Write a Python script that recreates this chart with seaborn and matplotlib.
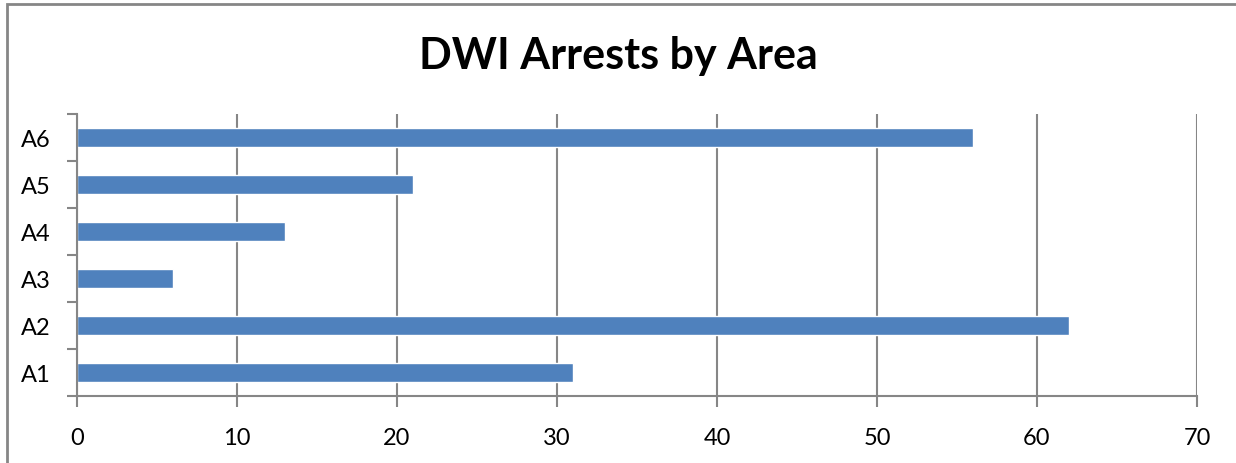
import pandas as pd
import seaborn as sns
import matplotlib.pyplot as plt
from matplotlib.patches import Rectangle
import matplotlib.ticker as ticker

# data
areas = ['A1', 'A2', 'A3', 'A4', 'A5', 'A6']
arrests = [31, 62, 6, 13, 21, 56]

df = pd.DataFrame({'Area': areas, 'Arrests': arrests})

sns.set_theme(style='white')
plt.rcParams['font.family'] = ['Lato', 'DejaVu Sans']

grey = '#868686'
fig = plt.figure(figsize=(12.36, 4.64), dpi=100)
ax = fig.add_axes([77 / 1236, 1 - 397 / 464, 1120 / 1236, 282 / 464])

sns.barplot(data=df, x='Arrests', y='Area', order=areas[::-1],
            color='#4F81BD', saturation=1, width=0.4, ax=ax)

ax.set_xlim(0, 70)
ax.set_ylim(5.5, -0.5)
ax.xaxis.set_major_locator(ticker.MultipleLocator(10))
ax.grid(axis='x', color=grey, linewidth=1.5)
ax.set_axisbelow(True)

# category boundaries get the tick marks, labels sit in between
ax.set_yticks([i + 0.5 for i in range(-1, 6)], minor=True)
ax.tick_params(axis='y', which='major', length=0, pad=19, labelsize=17, labelcolor='black')
ax.tick_params(axis='y', which='minor', length=7, width=1.5, color=grey, left=True)
ax.tick_params(axis='x', which='major', length=8, width=1.5, color=grey, bottom=True,
               pad=14, labelsize=17, labelcolor='black')

for side in ['top', 'right']:
    ax.spines[side].set_visible(False)
for side in ['left', 'bottom']:
    ax.spines[side].set_color(grey)
    ax.spines[side].set_linewidth(1.5)

ax.set_xlabel('')
ax.set_ylabel('')

fig.text(0.5, 1 - 56 / 464, 'DWI Arrests by Area', ha='center', va='center',
         fontsize=31, fontweight='bold', color='black')

# outer chart border
fig.patches.append(Rectangle((7 / 1236, -0.01), 1.1, 1 - 5 / 464 + 0.01, transform=fig.transFigure,
                             fill=False, edgecolor=grey, linewidth=2))

fig.savefig('out.png', dpi=100)
